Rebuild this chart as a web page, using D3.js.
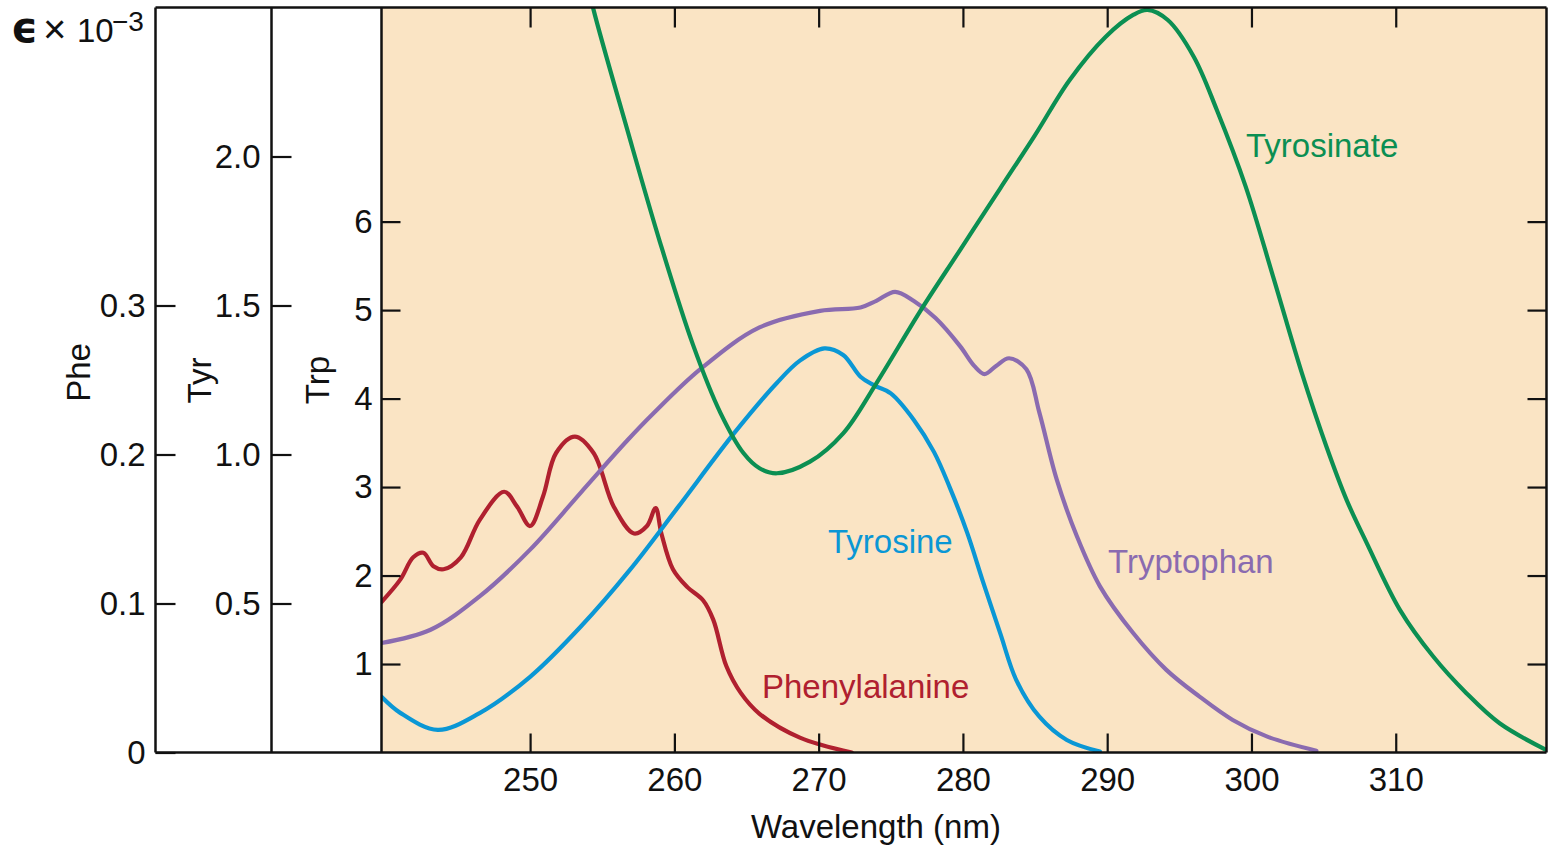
<!DOCTYPE html>
<html>
<head>
<meta charset="utf-8">
<script src="https://cdn.jsdelivr.net/npm/d3@7"></script>
<style>
  html, body { margin: 0; padding: 0; background: #ffffff; }
  svg { display: block; font-family: "Liberation Sans", Arial, Helvetica, sans-serif; }
</style>
</head>
<body>
<svg id="chart" width="1548" height="851"></svg>
<script>
// Tick values for each axis
const wavelengthTicks = [250, 260, 270, 280, 290, 300, 310];
const pheTicks = [0, 0.1, 0.2, 0.3];
const tyrTicks = [0.5, 1.0, 1.5, 2.0];
const trpTicks = [1, 2, 3, 4, 5, 6];

// Absorption spectra: [wavelength (nm), ε × 10⁻³]
const phenylalanine = [
  [239.7, 0.101], [241.0, 0.116], [241.9, 0.131], [242.6, 0.134], [243.3, 0.125],
  [244.0, 0.123], [245.2, 0.131], [246.5, 0.156], [248.2, 0.175], [249.1, 0.165],
  [250.0, 0.152], [250.9, 0.172], [251.8, 0.201], [253.1, 0.212], [254.4, 0.201],
  [255.8, 0.165], [257.2, 0.147], [258.1, 0.152], [258.7, 0.164], [259.1, 0.147],
  [259.9, 0.123], [260.9, 0.111], [262.0, 0.102], [262.7, 0.089], [263.6, 0.058],
  [264.6, 0.040], [265.9, 0.026], [268.7, 0.010], [272.3, 0.000]
];

const tyrosine = [
  [239.7, 0.187], [241.0, 0.133], [243.6, 0.076], [246.5, 0.132], [250.0, 0.254],
  [253.5, 0.422], [256.9, 0.612], [260.2, 0.820], [264.1, 1.069], [267.1, 1.240],
  [268.7, 1.315], [270.4, 1.356], [271.7, 1.334], [272.9, 1.261], [273.8, 1.233],
  [275.0, 1.205], [276.6, 1.116], [278.0, 1.008], [279.1, 0.888], [280.3, 0.737],
  [281.4, 0.572], [282.6, 0.398], [283.7, 0.243], [285.3, 0.120], [287.2, 0.042],
  [289.5, 0.003]
];

const tryptophan = [
  [239.7, 1.237], [243.1, 1.387], [246.5, 1.764], [250.0, 2.293], [253.5, 2.935],
  [256.7, 3.520], [258.5, 3.825], [261.8, 4.332], [265.9, 4.804], [270.1, 4.992],
  [272.9, 5.030], [274.0, 5.105], [275.3, 5.207], [276.6, 5.102], [278.1, 4.910],
  [279.8, 4.593], [280.8, 4.367], [281.5, 4.277], [282.3, 4.369], [283.2, 4.456],
  [284.4, 4.332], [285.3, 3.841], [286.5, 3.086], [287.9, 2.444], [289.5, 1.878],
  [291.8, 1.350], [294.1, 0.934], [296.4, 0.632], [298.7, 0.368], [301.1, 0.179],
  [304.5, 0.020]
];

const tyrosinate = [
  [253.9, 2.600], [254.4, 2.492], [256.7, 2.096], [259.0, 1.713], [261.3, 1.367],
  [263.2, 1.139], [264.8, 1.004], [265.9, 0.954], [267.1, 0.937], [269.4, 0.976],
  [271.7, 1.071], [274.0, 1.239], [277.0, 1.478], [279.8, 1.686], [282.6, 1.894],
  [285.0, 2.072], [287.4, 2.257], [289.9, 2.402], [291.8, 2.475], [292.8, 2.492],
  [294.2, 2.458], [296.0, 2.335], [297.6, 2.156], [299.6, 1.899], [301.5, 1.597],
  [303.5, 1.272], [305.2, 1.026], [306.6, 0.847], [308.0, 0.702], [310.3, 0.478],
  [312.6, 0.322], [314.9, 0.199], [317.2, 0.098], [320.45, 0.008]
];

const seriesNames = ["Phenylalanine", "Tyrosine", "Tryptophan", "Tyrosinate"];
const seriesColors = ["#b0202f", "#0a97d5", "#8a6bb0", "#0b8f52"];

const svg = d3.select("#chart");

// Layout
const plotLeft = 381.5, plotRight = 1546.5, plotTop = 7.5, plotBottom = 752.5;
const pheAxisX = 155.5, tyrAxisX = 271.5;

const x = d3.scaleLinear().domain([239.7, 320.45]).range([plotLeft, plotRight]);
const yPhe = d3.scaleLinear().domain([0, 0.5]).range([plotBottom, plotTop]);
const yTyr = d3.scaleLinear().domain([0, 2.5]).range([plotBottom, plotTop]);
const yTrp = d3.scaleLinear().domain([0, 8.42]).range([plotBottom, plotTop]);

// Plot background
svg.append("rect")
  .attr("x", plotLeft).attr("y", plotTop)
  .attr("width", plotRight - plotLeft).attr("height", plotBottom - plotTop)
  .attr("fill", "#fae4c4");

svg.append("clipPath").attr("id", "plot-clip")
  .append("rect")
  .attr("x", plotLeft).attr("y", plotTop)
  .attr("width", plotRight - plotLeft).attr("height", plotBottom - plotTop);

// Spectra
const curves = [
  { data: phenylalanine, y: yPhe },
  { data: tyrosine, y: yTyr },
  { data: tryptophan, y: yTrp },
  { data: tyrosinate, y: yTyr }
];

const curveGroup = svg.append("g").attr("clip-path", "url(#plot-clip)");
curves.forEach((c, i) => {
  const line = d3.line()
    .x(d => x(d[0]))
    .y(d => c.y(d[1]))
    .curve(d3.curveCatmullRom.alpha(0.5));
  curveGroup.append("path")
    .datum(c.data)
    .attr("d", line)
    .attr("fill", "none")
    .attr("stroke", seriesColors[i])
    .attr("stroke-width", 4.2)
    .attr("stroke-linejoin", "round")
    .attr("stroke-linecap", "round");
});

// Axes
const fontSize = 33;
function styleAxis(g) {
  g.select(".domain").remove();
  g.selectAll(".tick line").attr("stroke", "#111").attr("stroke-width", 2.2);
  g.selectAll(".tick text").attr("fill", "#111").style("font-size", fontSize + "px")
    .style("font-family", "\"Liberation Sans\", Arial, Helvetica, sans-serif");
}

svg.append("g")
  .attr("transform", `translate(${pheAxisX},0)`)
  .call(d3.axisLeft(yPhe).tickValues(pheTicks).tickSizeInner(-20).tickSizeOuter(0)
    .tickPadding(10).tickFormat(d => d === 0 ? "0" : d3.format(".1f")(d)))
  .call(styleAxis);

svg.append("g")
  .attr("transform", `translate(${tyrAxisX},0)`)
  .call(d3.axisLeft(yTyr).tickValues(tyrTicks).tickSizeInner(-20).tickSizeOuter(0)
    .tickPadding(11).tickFormat(d3.format(".1f")))
  .call(styleAxis);

svg.append("g")
  .attr("transform", `translate(${plotLeft},0)`)
  .call(d3.axisLeft(yTrp).tickValues(trpTicks).tickSizeInner(-19).tickSizeOuter(0)
    .tickPadding(9).tickFormat(d3.format("d")))
  .call(styleAxis);

svg.append("g")
  .attr("transform", `translate(${plotRight},0)`)
  .call(d3.axisRight(yTrp).tickValues(trpTicks).tickSizeInner(-19).tickSizeOuter(0)
    .tickFormat(""))
  .call(styleAxis);

svg.append("g")
  .attr("transform", `translate(0,${plotBottom})`)
  .call(d3.axisBottom(x).tickValues(wavelengthTicks).tickSizeInner(-19).tickSizeOuter(0)
    .tickPadding(15).tickFormat(d3.format("d")))
  .call(styleAxis);

svg.append("g")
  .attr("transform", `translate(0,${plotTop})`)
  .call(d3.axisTop(x).tickValues(wavelengthTicks).tickSizeInner(-20).tickSizeOuter(0)
    .tickFormat(""))
  .call(styleAxis);

// Frame lines
const frame = svg.append("g").attr("stroke", "#111").attr("stroke-width", 2.5).attr("fill", "none");
frame.append("line").attr("x1", pheAxisX).attr("x2", plotRight).attr("y1", plotTop).attr("y2", plotTop);
frame.append("line").attr("x1", pheAxisX).attr("x2", plotRight).attr("y1", plotBottom).attr("y2", plotBottom);
[pheAxisX, tyrAxisX, plotLeft, plotRight].forEach(px => {
  frame.append("line").attr("x1", px).attr("x2", px).attr("y1", plotTop).attr("y2", plotBottom);
});

// Axis titles
const titleStyle = s => s.attr("fill", "#111").style("font-size", fontSize + "px").attr("text-anchor", "middle");
svg.append("text").attr("transform", "translate(90,372.5) rotate(-90)").text("Phe").call(titleStyle);
svg.append("text").attr("transform", "translate(211,380.5) rotate(-90)").text("Tyr").call(titleStyle);
svg.append("text").attr("transform", "translate(329,380) rotate(-90)").text("Trp").call(titleStyle);

svg.append("text")
  .attr("x", (x(250) + x(310)) / 2 - 87).attr("y", 838)
  .text("Wavelength (nm)").call(titleStyle);

// ε × 10⁻³ unit label
const unit = svg.append("g").attr("fill", "#111");
unit.append("text").attr("x", 11).attr("y", 42)
  .style("font-size", "42px").style("font-weight", "bold")
  .style("font-family", "\"DejaVu Sans\", sans-serif").text("ϵ");
unit.append("text").attr("x", 43).attr("y", 43)
  .style("font-size", "40px").text("×");
unit.append("text").attr("x", 77).attr("y", 42)
  .style("font-size", fontSize + "px").text("10");
unit.append("text").attr("x", 112).attr("y", 31)
  .style("font-size", "28px").text("−3");

// Curve labels
const labelPos = [[762, 698], [828, 553], [1108, 573], [1246, 157]];
seriesNames.forEach((name, i) => {
  svg.append("text")
    .attr("x", labelPos[i][0]).attr("y", labelPos[i][1])
    .attr("fill", seriesColors[i])
    .style("font-size", fontSize + "px")
    .text(name);
});
</script>
</body>
</html>
